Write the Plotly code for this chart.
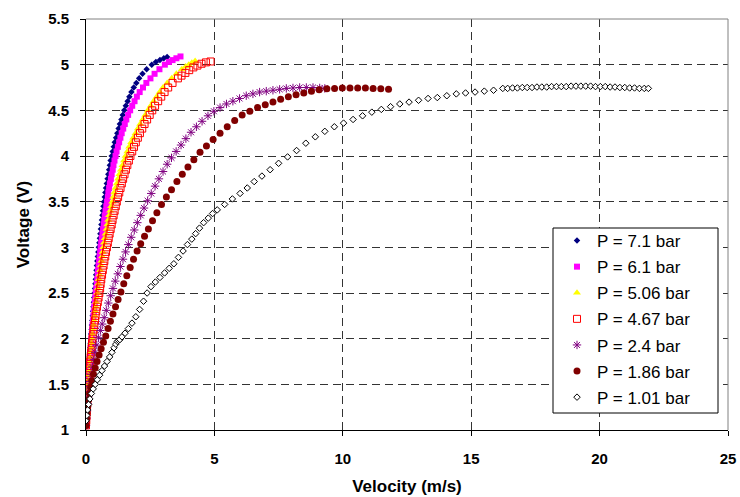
import plotly.graph_objects as go

# ---------------- data ----------------
series_names = ["P = 7.1 bar", "P = 6.1 bar", "P = 5.06 bar", "P = 4.67 bar",
                "P = 2.4 bar", "P = 1.86 bar", "P = 1.01 bar"]

v_71 = [0.000, 0.007, 0.014, 0.021, 0.028, 0.035, 0.042, 0.049, 0.058, 0.067, 0.077, 0.088,
        0.099, 0.111, 0.123, 0.136, 0.150, 0.164, 0.178, 0.19, 0.20, 0.22, 0.23, 0.245,
        0.26, 0.275, 0.29, 0.305, 0.32, 0.335, 0.35, 0.365, 0.38, 0.395, 0.41, 0.425, 0.44,
        0.46, 0.48, 0.50, 0.52, 0.54, 0.56, 0.58, 0.60, 0.62, 0.64, 0.66, 0.68, 0.70, 0.73,
        0.755, 0.78, 0.81, 0.84, 0.87, 0.90, 0.93, 0.96, 1.00, 1.04, 1.08, 1.12, 1.17, 1.22,
        1.27, 1.32, 1.38, 1.43, 1.49, 1.55, 1.62, 1.69, 1.77, 1.86, 1.96, 2.07, 2.20, 2.36,
        2.56, 2.72, 2.88, 3.03, 3.16]
V_71 = [1.05, 1.10, 1.15, 1.20, 1.25, 1.30, 1.35, 1.40, 1.45, 1.50, 1.55, 1.60, 1.65, 1.70,
        1.75, 1.80, 1.85, 1.90, 1.95, 2.00, 2.05, 2.10, 2.15, 2.20, 2.25, 2.30, 2.35, 2.40,
        2.45, 2.50, 2.55, 2.60, 2.65, 2.70, 2.75, 2.80, 2.85, 2.90, 2.95, 3.00, 3.05, 3.10,
        3.15, 3.20, 3.25, 3.30, 3.35, 3.40, 3.45, 3.50, 3.55, 3.60, 3.65, 3.70, 3.75, 3.80,
        3.85, 3.90, 3.95, 4.00, 4.05, 4.10, 4.15, 4.20, 4.25, 4.30, 4.35, 4.40, 4.45, 4.50,
        4.55, 4.60, 4.65, 4.70, 4.75, 4.80, 4.85, 4.90, 4.95, 5.00, 5.03, 5.05, 5.07, 5.085]

v_61 = [0.000, 0.007, 0.014, 0.021, 0.028, 0.036, 0.044, 0.052, 0.062, 0.073, 0.085, 0.097,
        0.11, 0.124, 0.138, 0.153, 0.168, 0.183, 0.197, 0.21, 0.225, 0.24, 0.255, 0.27,
        0.29, 0.305, 0.32, 0.34, 0.36, 0.38, 0.40, 0.42, 0.44, 0.455, 0.47, 0.49, 0.51, 0.53,
        0.55, 0.57, 0.59, 0.615, 0.64, 0.665, 0.69, 0.71, 0.73, 0.76, 0.79, 0.82, 0.85, 0.87,
        0.90, 0.93, 0.97, 1.00, 1.04, 1.07, 1.11, 1.15, 1.19, 1.24, 1.29, 1.34, 1.39, 1.45,
        1.51, 1.57, 1.64, 1.72, 1.80, 1.89, 1.98, 2.09, 2.22, 2.35, 2.51, 2.67, 2.86, 3.07,
        3.23, 3.37, 3.52, 3.68]
V_61 = [1.05, 1.10, 1.15, 1.20, 1.25, 1.30, 1.35, 1.40, 1.45, 1.50, 1.55, 1.60, 1.65, 1.70,
        1.75, 1.80, 1.85, 1.90, 1.95, 2.00, 2.05, 2.10, 2.15, 2.20, 2.25, 2.30, 2.35, 2.40,
        2.45, 2.50, 2.55, 2.60, 2.65, 2.70, 2.75, 2.80, 2.85, 2.90, 2.95, 3.00, 3.05, 3.10,
        3.15, 3.20, 3.25, 3.30, 3.35, 3.40, 3.45, 3.50, 3.55, 3.60, 3.65, 3.70, 3.75, 3.80,
        3.85, 3.90, 3.95, 4.00, 4.05, 4.10, 4.15, 4.20, 4.25, 4.30, 4.35, 4.40, 4.45, 4.50,
        4.55, 4.60, 4.65, 4.70, 4.75, 4.80, 4.85, 4.90, 4.95, 5.00, 5.03, 5.05, 5.07, 5.09]

v_506 = [0.00, 0.01, 0.02, 0.03, 0.04, 0.05, 0.06, 0.07, 0.08, 0.09, 0.10, 0.11, 0.125, 0.14,
         0.155, 0.17, 0.185, 0.20, 0.215, 0.23, 0.25, 0.27, 0.29, 0.31, 0.33, 0.35, 0.37,
         0.39, 0.415, 0.44, 0.46, 0.48, 0.50, 0.525, 0.55, 0.575, 0.60, 0.625, 0.65, 0.675,
         0.70, 0.73, 0.765, 0.80, 0.83, 0.865, 0.90, 0.94, 0.98, 1.02, 1.06, 1.10, 1.15, 1.20,
         1.25, 1.30, 1.36, 1.42, 1.48, 1.54, 1.61, 1.68, 1.76, 1.84, 1.93, 2.02, 2.11, 2.21,
         2.31, 2.41, 2.52, 2.63, 2.75, 2.87, 3.00, 3.16, 3.34, 3.52, 3.73, 3.88, 4.00, 4.12,
         4.25]
V_506 = [1.05, 1.10, 1.15, 1.20, 1.25, 1.30, 1.35, 1.40, 1.45, 1.50, 1.55, 1.60, 1.65, 1.70,
         1.75, 1.80, 1.85, 1.90, 1.95, 2.00, 2.05, 2.10, 2.15, 2.20, 2.25, 2.30, 2.35, 2.40,
         2.45, 2.50, 2.55, 2.60, 2.65, 2.70, 2.75, 2.80, 2.85, 2.90, 2.95, 3.00, 3.05, 3.10,
         3.15, 3.20, 3.25, 3.30, 3.35, 3.40, 3.45, 3.50, 3.55, 3.60, 3.65, 3.70, 3.75, 3.80,
         3.85, 3.90, 3.95, 4.00, 4.05, 4.10, 4.15, 4.20, 4.25, 4.30, 4.35, 4.40, 4.45, 4.50,
         4.55, 4.60, 4.65, 4.70, 4.75, 4.80, 4.85, 4.90, 4.95, 4.98, 5.00, 5.02, 5.04]

v_467 = [0.00, 0.01, 0.02, 0.03, 0.04, 0.05, 0.06, 0.07, 0.08, 0.09, 0.105, 0.12, 0.13, 0.145,
         0.165, 0.18, 0.20, 0.22, 0.235, 0.255, 0.28, 0.30, 0.325, 0.35, 0.375, 0.40, 0.43,
         0.46, 0.49, 0.52, 0.55, 0.57, 0.595, 0.625, 0.655, 0.685, 0.715, 0.75, 0.78, 0.815,
         0.85, 0.885, 0.92, 0.96, 1.00, 1.035, 1.075, 1.115, 1.16, 1.20, 1.25, 1.295, 1.345,
         1.395, 1.445, 1.50, 1.555, 1.61, 1.67, 1.73, 1.80, 1.87, 1.94, 2.02, 2.10, 2.19,
         2.28, 2.38, 2.48, 2.58, 2.69, 2.81, 2.93, 3.06, 3.20, 3.37, 3.58, 3.72, 3.87, 4.02,
         4.18, 4.34, 4.50, 4.67, 4.85]
V_467 = [1.05, 1.10, 1.15, 1.20, 1.25, 1.30, 1.35, 1.40, 1.45, 1.50, 1.55, 1.60, 1.65, 1.70,
         1.75, 1.80, 1.85, 1.90, 1.95, 2.00, 2.05, 2.10, 2.15, 2.20, 2.25, 2.30, 2.35, 2.40,
         2.45, 2.50, 2.55, 2.60, 2.65, 2.70, 2.75, 2.80, 2.85, 2.90, 2.95, 3.00, 3.05, 3.10,
         3.15, 3.20, 3.25, 3.30, 3.35, 3.40, 3.45, 3.50, 3.55, 3.60, 3.65, 3.70, 3.75, 3.80,
         3.85, 3.90, 3.95, 4.00, 4.05, 4.10, 4.15, 4.20, 4.25, 4.30, 4.35, 4.40, 4.45, 4.50,
         4.55, 4.60, 4.65, 4.70, 4.75, 4.80, 4.85, 4.88, 4.91, 4.94, 4.97, 4.99, 5.01, 5.025,
         5.035]

v_24 = [0.00, 0.02, 0.04, 0.06, 0.09, 0.12, 0.16, 0.20, 0.25, 0.30, 0.36, 0.42, 0.49, 0.56,
        0.63, 0.71, 0.79, 0.87, 0.96, 1.05, 1.14, 1.24, 1.34, 1.44, 1.54, 1.65, 1.76, 1.88,
        2.00, 2.13, 2.26, 2.40, 2.54, 2.69, 2.84, 3.00, 3.16, 3.33, 3.51, 3.70, 3.89, 4.09,
        4.30, 4.52, 4.75, 4.98, 5.22, 5.47, 5.72, 5.98, 6.24, 6.50, 6.76, 7.02, 7.28, 7.54,
        7.80, 8.06, 8.32, 8.58, 8.84, 9.10, 9.30]
V_24 = [1.05, 1.13, 1.21, 1.29, 1.37, 1.45, 1.53, 1.61, 1.69, 1.77, 1.85, 1.93, 2.01, 2.09,
        2.16, 2.23, 2.31, 2.39, 2.47, 2.55, 2.63, 2.71, 2.79, 2.87, 2.95, 3.03, 3.11, 3.19,
        3.27, 3.35, 3.43, 3.51, 3.59, 3.67, 3.75, 3.83, 3.91, 3.98, 4.05, 4.12, 4.19, 4.26,
        4.32, 4.38, 4.44, 4.49, 4.53, 4.57, 4.60, 4.63, 4.66, 4.68, 4.70, 4.71, 4.72, 4.73,
        4.74, 4.745, 4.75, 4.75, 4.75, 4.745, 4.74]

v_186 = [0.00, 0.02, 0.04, 0.07, 0.10, 0.14, 0.18, 0.23, 0.29, 0.36, 0.43, 0.51, 0.59, 0.68,
         0.77, 0.86, 0.95, 1.05, 1.15, 1.25, 1.36, 1.47, 1.59, 1.72, 1.85, 1.99, 2.13, 2.28,
         2.43, 2.59, 2.76, 2.94, 3.13, 3.33, 3.54, 3.75, 3.97, 4.20, 4.44, 4.69, 4.95, 5.22,
         5.50, 5.79, 6.08, 6.38, 6.68, 6.98, 7.28, 7.58, 7.88, 8.18, 8.48, 8.78, 9.08, 9.38,
         9.68, 9.98, 10.28, 10.58, 10.88, 11.18, 11.48, 11.78]
V_186 = [1.05, 1.12, 1.19, 1.26, 1.33, 1.40, 1.47, 1.54, 1.61, 1.68, 1.75, 1.82, 1.89, 1.96,
         2.03, 2.11, 2.19, 2.27, 2.35, 2.43, 2.51, 2.60, 2.69, 2.78, 2.87, 2.96, 3.04, 3.12,
         3.20, 3.29, 3.38, 3.47, 3.55, 3.63, 3.72, 3.80, 3.88, 3.96, 4.04, 4.11, 4.18, 4.25,
         4.32, 4.39, 4.45, 4.49, 4.53, 4.56, 4.59, 4.62, 4.65, 4.67, 4.69, 4.71, 4.725, 4.735,
         4.74, 4.745, 4.745, 4.745, 4.745, 4.74, 4.735, 4.73]

v_101 = [0.00, 0.03, 0.06, 0.10, 0.15, 0.21, 0.28, 0.36, 0.44, 0.53, 0.62, 0.72, 0.82, 0.92,
         1.01, 1.09, 1.16, 1.22, 1.27, 1.32, 1.40, 1.52, 1.65, 1.79, 1.94, 2.09, 2.24,
         2.38, 2.53, 2.70, 2.88, 3.06, 3.24, 3.42, 3.60, 3.78, 3.95, 4.12, 4.27, 4.42, 4.58,
         4.76, 4.93, 5.11, 5.40, 5.70, 6.00, 6.28, 6.55, 6.85, 7.17, 7.50, 7.85, 8.20, 8.56,
         8.93, 9.30, 9.67, 10.03, 10.40, 10.77, 11.13, 11.50, 11.86, 12.22, 12.58, 12.95,
         13.32, 13.68, 14.05, 14.42, 14.78, 15.15, 15.51, 15.87, 16.23, 16.42, 16.61, 16.80,
         16.99, 17.18, 17.37, 17.56, 17.75, 17.94, 18.13, 18.32, 18.51, 18.70, 18.89, 19.08,
         19.27, 19.46, 19.65, 19.84, 20.03, 20.22, 20.41, 20.60, 20.79, 20.98, 21.17, 21.36,
         21.55, 21.74, 21.90]
V_101 = [1.10, 1.16, 1.22, 1.28, 1.34, 1.40, 1.45, 1.50, 1.55, 1.60, 1.65, 1.70, 1.75, 1.80,
         1.85, 1.90, 1.94, 1.97, 1.98, 1.99, 2.02, 2.06, 2.11, 2.17, 2.24, 2.32, 2.41,
         2.50, 2.57, 2.62, 2.67, 2.72, 2.77, 2.82, 2.89, 2.96, 3.03, 3.09, 3.15, 3.21, 3.27,
         3.32, 3.37, 3.41, 3.47, 3.53, 3.59, 3.65, 3.72, 3.78, 3.85, 3.92, 3.99, 4.06, 4.14,
         4.21, 4.27, 4.32, 4.36, 4.40, 4.44, 4.48, 4.51, 4.54, 4.57, 4.59, 4.61,
         4.63, 4.64, 4.66, 4.68, 4.69, 4.70, 4.71, 4.72, 4.74, 4.74, 4.745, 4.745,
         4.75, 4.75, 4.75, 4.755, 4.755, 4.755, 4.76, 4.76, 4.76, 4.76, 4.765, 4.765,
         4.765, 4.765, 4.765, 4.76, 4.76, 4.76, 4.755, 4.755, 4.75, 4.75, 4.745, 4.745,
         4.74, 4.74, 4.74]

x_ticks = [0, 5, 10, 15, 20, 25]
y_ticks = [1, 1.5, 2, 2.5, 3, 3.5, 4, 4.5, 5, 5.5]
x_title = "Velocity (m/s)"
y_title = "Voltage (V)"

# ---------------- styles ----------------
FONT = "Liberation Sans, Arial, sans-serif"
styles = [
    dict(symbol="diamond", size=5, color="#000080", line=dict(width=0)),
    dict(symbol="square", size=6, color="#FF00FF", line=dict(width=0)),
    dict(symbol="triangle-up", size=7, color="#FFFF00", line=dict(width=0)),
    dict(symbol="square-open", size=7, color="#FF0000", line=dict(width=1, color="#FF0000")),
    dict(symbol="asterisk-open", size=7, color="#800080", line=dict(width=1, color="#800080")),
    dict(symbol="circle", size=7, color="#800000", line=dict(width=0)),
    dict(symbol="diamond", size=5, color="#FFFFFF", line=dict(width=1, color="#000000")),
]
data = [(v_71, V_71), (v_61, V_61), (v_506, V_506), (v_467, V_467),
        (v_24, V_24), (v_186, V_186), (v_101, V_101)]

fig = go.Figure()
for name, (xs, ys), st in zip(series_names, data, styles):
    fig.add_trace(go.Scatter(x=xs, y=ys, mode="markers", name=name, marker=st,
                             legendgroup=name))

L, R, T, B = 86, 12, 19, 67
W, H = 740, 497
pw, ph = W - L - R, H - T - B


def px_x(p):
    return (p - L) / pw


def px_y(p):
    return (H - B - p) / ph


grid = dict(showgrid=True, gridcolor="#333333", gridwidth=1, griddash="8px,5px",
            showline=True, linecolor="#000000", linewidth=1, ticks="outside",
            ticklen=5, tickcolor="#000000", zeroline=False, automargin=False,
            tickfont=dict(family=FONT, size=15, color="#000000", weight="bold"))

fig.update_layout(
    width=W, height=H,
    margin=dict(l=L, r=R, t=T, b=B, pad=0, autoexpand=False),
    paper_bgcolor="white", plot_bgcolor="white",
    font=dict(family=FONT, color="#000000"),
    xaxis=dict(range=[0, 25], tickvals=x_ticks, ticktext=[str(t) for t in x_ticks],
               ticklabelstandoff=10,
               title=dict(text=x_title, standoff=14,
                          font=dict(family=FONT, size=17, color="#000000", weight="bold")),
               **grid),
    yaxis=dict(range=[1, 5.5], tickvals=y_ticks, ticktext=[f"{t:g}" for t in y_ticks],
               ticklabelstandoff=8,
               title=dict(text=y_title, standoff=14,
                          font=dict(family=FONT, size=17, color="#000000", weight="bold")),
               **grid),
    showlegend=True,
    legend=dict(x=px_x(557), y=px_y(223), xanchor="left", yanchor="top",
                bgcolor="rgba(0,0,0,0)", borderwidth=0, traceorder="grouped",
                tracegroupgap=1,
                font=dict(family=FONT, size=17, color="#000000")),
    shapes=[
        dict(type="line", xref="paper", yref="paper", x0=0, x1=1, y0=1, y1=1,
             line=dict(color="#808080", width=1), layer="above"),
        dict(type="line", xref="paper", yref="paper", x0=1, x1=1, y0=0, y1=1,
             line=dict(color="#808080", width=1), layer="above"),
        dict(type="rect", xref="paper", yref="paper",
             x0=px_x(553), x1=px_x(718), y0=px_y(413), y1=px_y(228),
             fillcolor="white", line=dict(color="#000000", width=1), layer="above"),
    ],
)

fig.write_html("out.html",
               config={"displayModeBar": False},
               post_script="document.body.style.margin='0px';"
                           "document.body.style.overflow='hidden';")
